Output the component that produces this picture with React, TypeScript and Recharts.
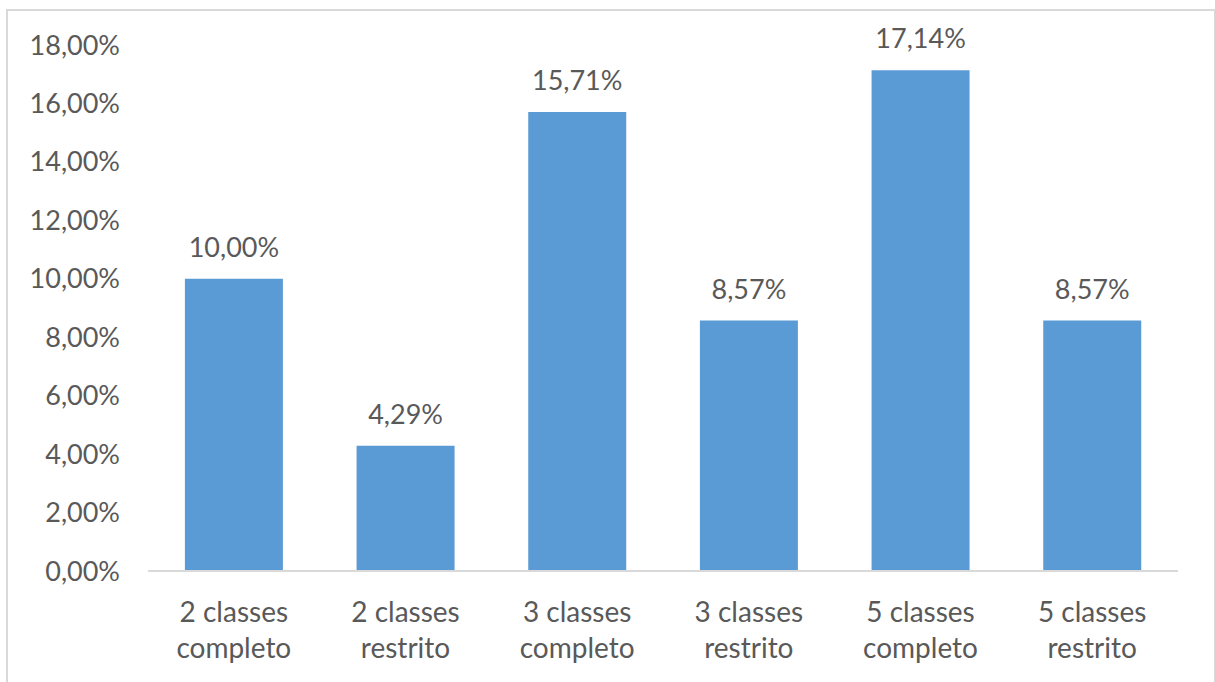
import { BarChart, Bar, XAxis, YAxis, LabelList } from 'recharts';

const categories = [
  '2 classes completo',
  '2 classes restrito',
  '3 classes completo',
  '3 classes restrito',
  '5 classes completo',
  '5 classes restrito',
];
const shares = [0.1, 0.0429, 0.1571, 0.0857, 0.1714, 0.0857];
const yTicks = [0, 0.02, 0.04, 0.06, 0.08, 0.1, 0.12, 0.14, 0.16, 0.18];

const data = categories.map((name, i) => ({ name, value: shares[i] }));

const FONT = 'Lato, "Open Sans", sans-serif';
const TEXT = '#595959';

const pct = (v: number) => (v * 100).toFixed(2).replace('.', ',') + '%';

function CategoryTick({ x, y, payload }: any) {
  const words = String(payload.value).split(' ');
  const first = words.slice(0, 2).join(' ');
  const second = words.slice(2).join(' ');
  return (
    <text x={x} y={y} textAnchor="middle" fill={TEXT} fontFamily={FONT} fontSize={28}>
      <tspan x={x} dy={43}>{first}</tspan>
      <tspan x={x} dy={36}>{second}</tspan>
    </text>
  );
}

export default function App() {
  return (
    <div style={{ position: 'absolute', left: 0, top: 0, width: 1215, height: 682, background: '#fff', overflow: 'hidden' }}>
      {/* chart frame */}
      <div
        style={{
          position: 'absolute',
          left: 6,
          top: 9,
          width: 1206,
          height: 700,
          border: '2px solid #d9d9d9',
        }}
      />
      <div style={{ position: 'absolute', left: 0, top: 0 }}>
        <BarChart
          width={1215}
          height={682}
          data={data}
          margin={{ top: 45, right: 37, bottom: 0, left: 0 }}
          barCategoryGap="21.5%"
        >
          <XAxis
            dataKey="name"
            height={111}
            tickLine={false}
            axisLine={{ stroke: '#d9d9d9', strokeWidth: 2 }}
            tick={<CategoryTick />}
            interval={0}
          />
          <YAxis
            width={148}
            domain={[0, 0.18]}
            ticks={yTicks}
            tickFormatter={pct}
            axisLine={false}
            tickLine={false}
            tickSize={0}
            tickMargin={28}
            tick={{ fill: TEXT, fontFamily: FONT, fontSize: 27 }}
          />
          <Bar dataKey="value" fill="#5b9bd5" isAnimationActive={false}>
            <LabelList
              dataKey="value"
              position="top"
              offset={22}
              formatter={(v: any) => pct(Number(v))}
              fill={TEXT}
              fontFamily={FONT}
              fontSize={27}
            />
          </Bar>
        </BarChart>
      </div>
    </div>
  );
}
